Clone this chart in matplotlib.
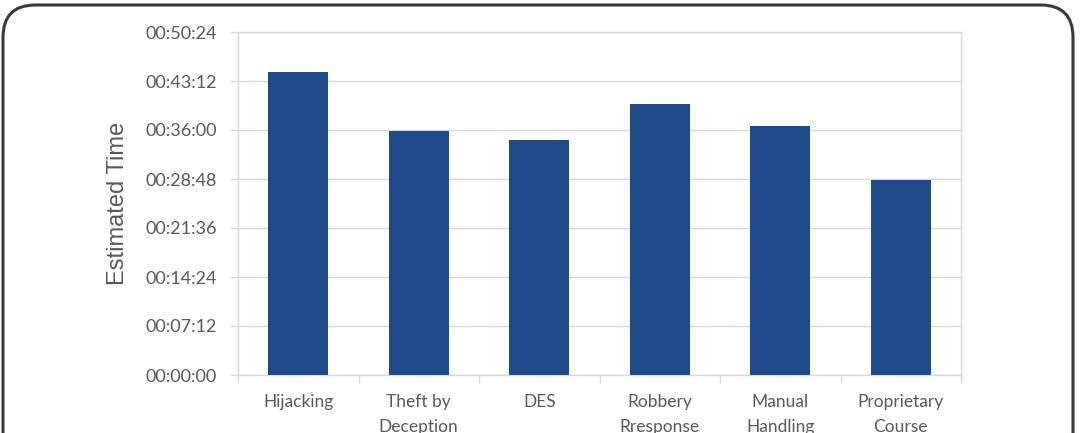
import matplotlib.pyplot as plt
from matplotlib.patches import FancyBboxPatch
from matplotlib.ticker import FuncFormatter, MultipleLocator

# Estimated time per course, in seconds
courses = ['Hijacking', 'Theft by\nDeception', 'DES', 'Robbery\nRresponse',
           'Manual\nHandling', 'Proprietary\nCourse']
est_seconds = [2675, 2150, 2070, 2390, 2195, 1720]

grid_col = '#d9d9d9'
text_col = '#595959'
bar_col = '#1c4a8a'


def hms(v, pos=None):
    v = int(round(v))
    return f'{v // 3600:02d}:{(v % 3600) // 60:02d}:{v % 60:02d}'


fig = plt.figure(figsize=(10.8, 4.33), dpi=100)
ax = fig.add_axes([238 / 1080, 1 - 375 / 433, (961 - 238) / 1080, (375 - 32) / 433])

x = range(len(courses))
ax.bar(x, est_seconds, width=0.5, color=bar_col, zorder=3)

ax.set_xlim(-0.5, len(courses) - 0.5)
ax.set_ylim(0, 3024)
ax.yaxis.set_major_locator(MultipleLocator(432))
ax.yaxis.set_major_formatter(FuncFormatter(hms))
ax.grid(axis='y', color=grid_col, linewidth=1, zorder=0)

ax.set_xticks(list(x))
ax.set_xticklabels(courses, fontfamily='Lato', fontsize=12.5, color=text_col,
                   linespacing=1.65)
ax.set_xticks([i + 0.5 for i in range(-1, len(courses))], minor=True)
ax.tick_params(axis='x', which='major', length=0, pad=14)
ax.tick_params(axis='x', which='minor', length=6, color=grid_col, width=1)
ax.tick_params(axis='y', length=6, color=grid_col, width=1, pad=9,
               labelsize=13, labelcolor=text_col)
for lab in ax.get_yticklabels():
    lab.set_fontfamily('Lato')

for s in ax.spines.values():
    s.set_color(grid_col)
    s.set_linewidth(1)

ax.set_ylabel('Estimated Time', fontfamily='Liberation Sans', fontsize=17,
              color=text_col, labelpad=12)

# rounded frame around the figure (bottom edge is cropped off)
frame = FancyBboxPatch((3 / 1080, -0.2), 1070 / 1080, 1.2 - 5 / 433,
                       boxstyle='round,pad=0,rounding_size=0.03',
                       transform=fig.transFigure, fill=False,
                       edgecolor='#3a3a3a', linewidth=2.2,
                       mutation_aspect=1080 / 433)
fig.patches.append(frame)

fig.savefig('out.png', dpi=100)
